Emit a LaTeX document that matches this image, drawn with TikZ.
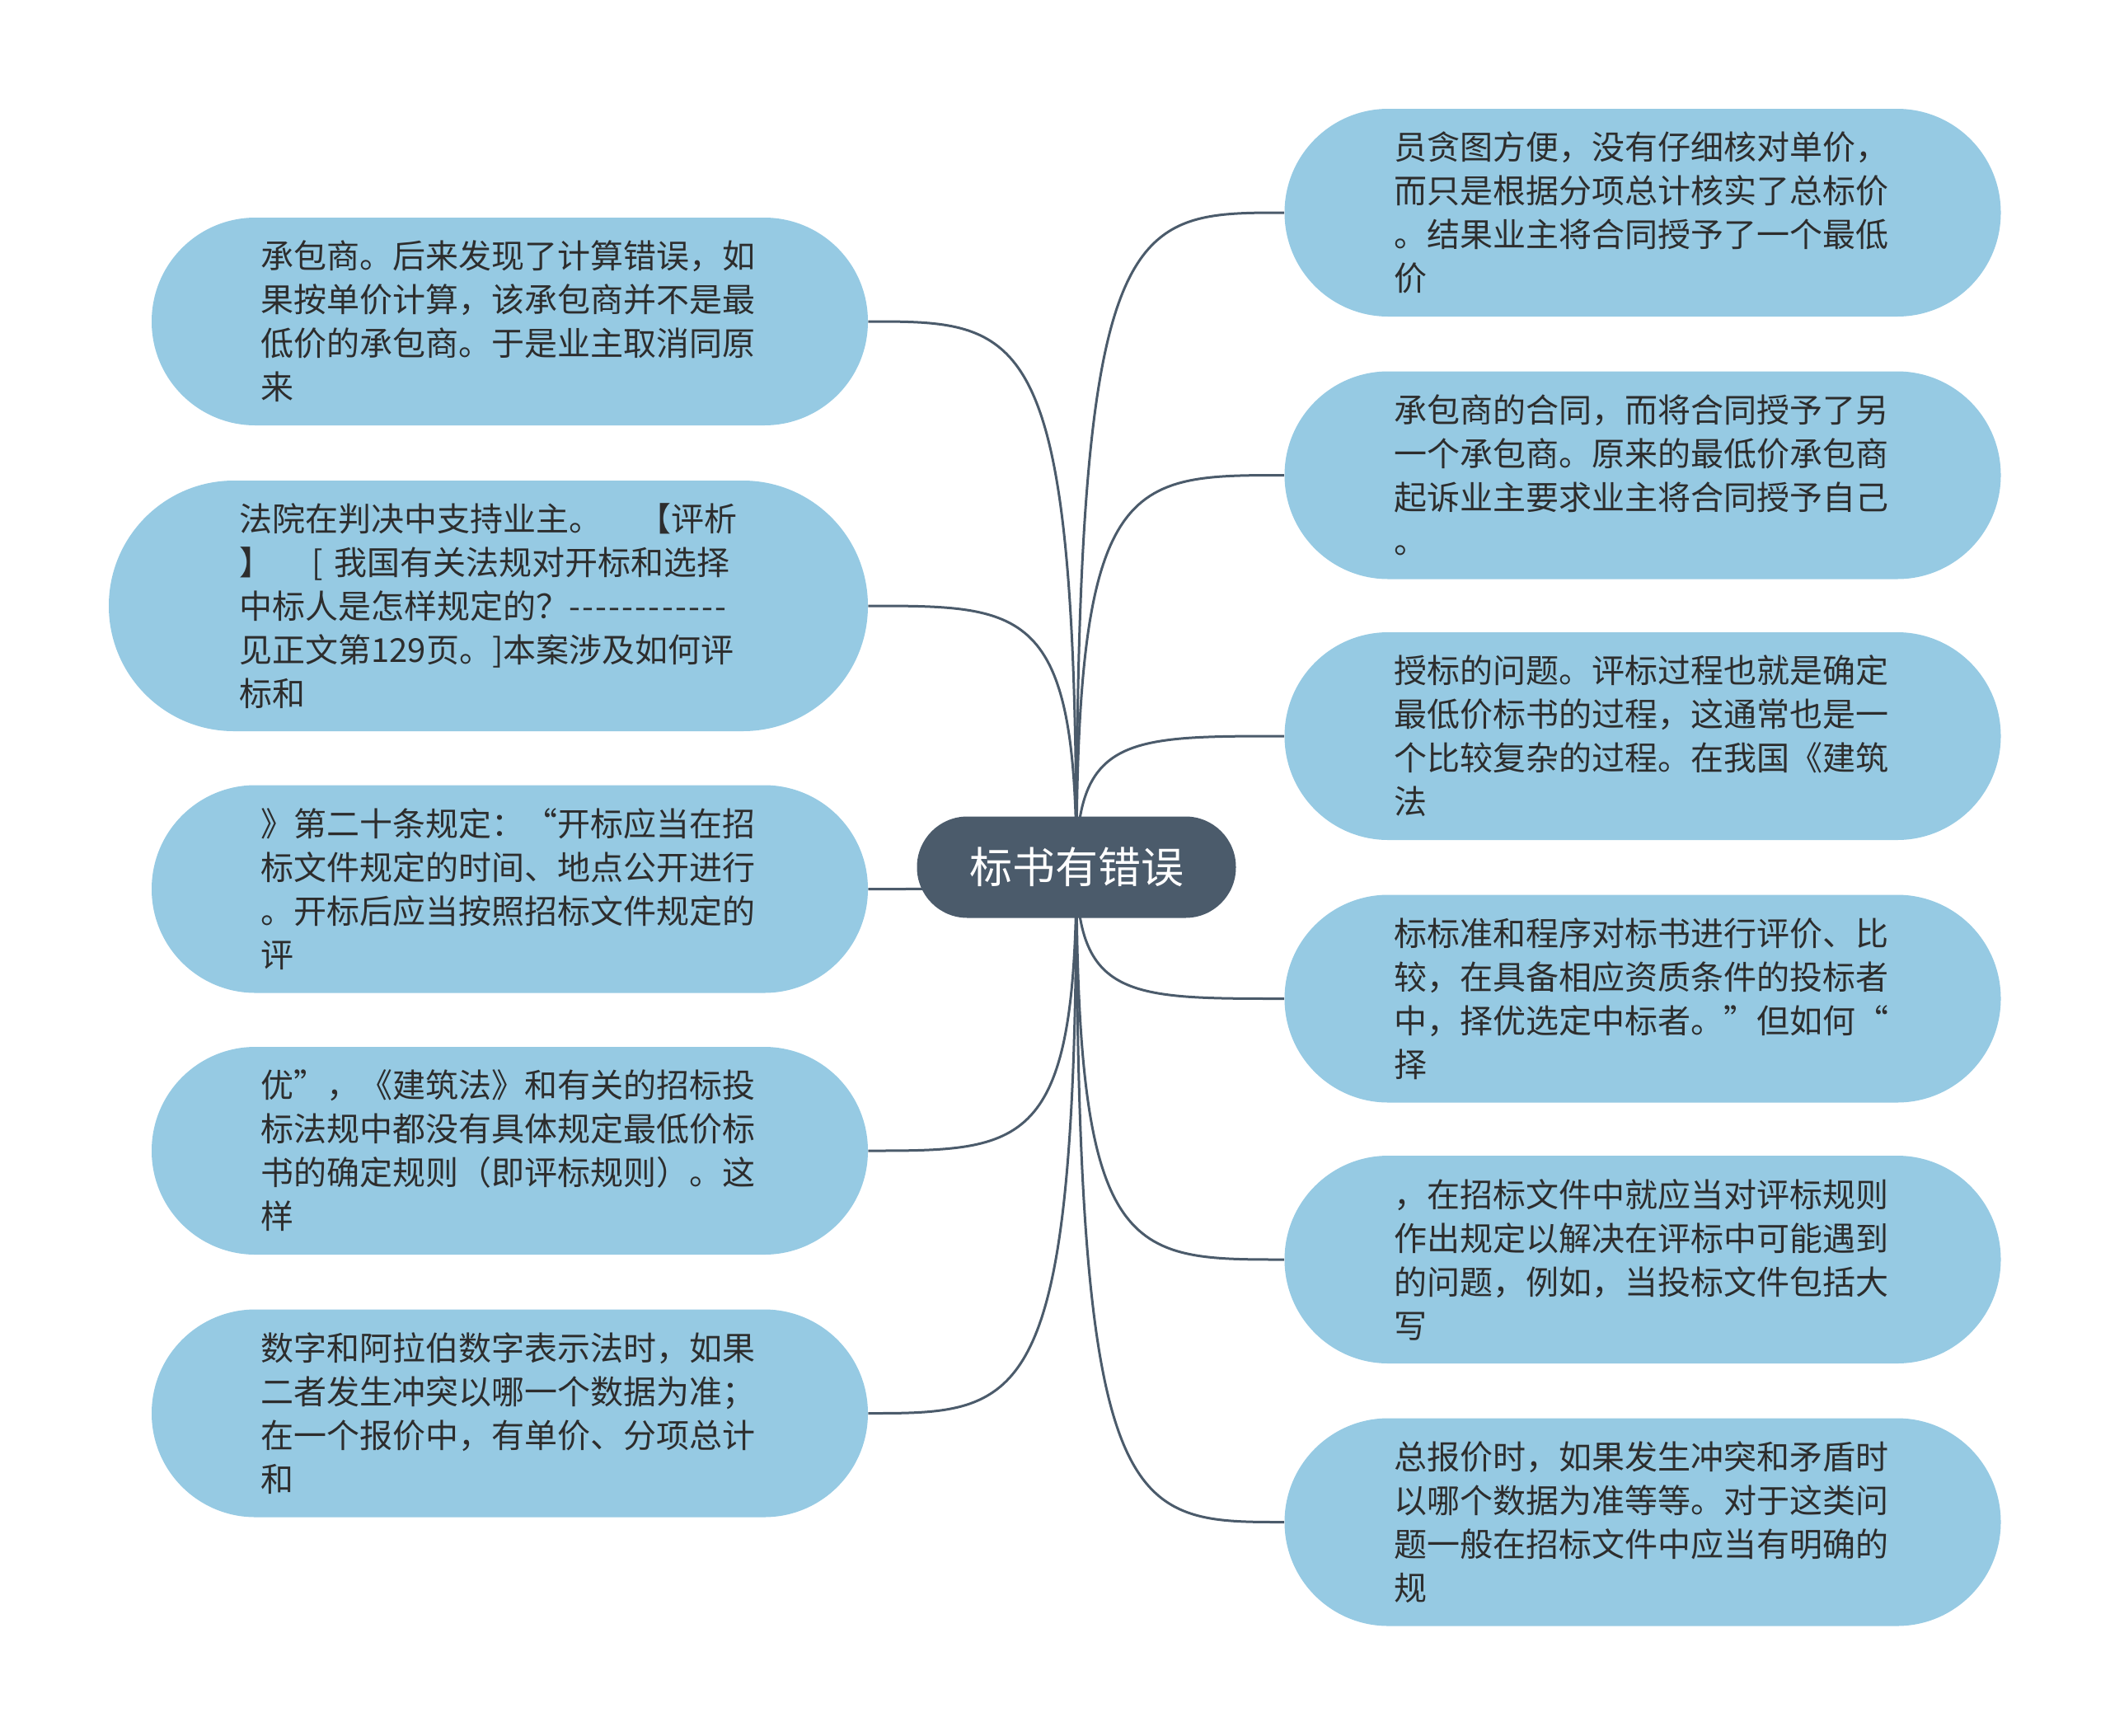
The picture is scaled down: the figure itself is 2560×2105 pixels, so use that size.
\documentclass[tikz,border=0pt]{standalone}
\usepackage{fontspec}
\newfontfamily\cjk{Noto Sans CJK SC}
\usetikzlibrary{backgrounds,calc}
\definecolor{leaf}{RGB}{150,202,227}
\definecolor{rootc}{RGB}{75,91,107}
\definecolor{txt}{RGB}{45,45,45}
\definecolor{edgec}{RGB}{75,91,107}
\def\hy{-\kern1.1pt}
\begin{document}
\begin{tikzpicture}[x=0.5pt,y=-0.5pt,
  leafbox/.style={fill=leaf, rounded corners=62.9pt, minimum width=434.5pt,
    minimum height=126pt, text width=302pt, align=left, inner sep=0pt,
    text=txt, font=\cjk\fontsize{20pt}{26.5pt}\selectfont},
  tallbox/.style={leafbox, rounded corners=75.9pt, minimum width=460.5pt, minimum height=152pt},
  rootbox/.style={fill=rootc, rounded corners=30.6pt, minimum width=193.5pt,
    minimum height=61.5pt, inner sep=0pt, text=white,
    font=\cjk\fontsize{26pt}{30pt}\selectfont},
  conn/.style={draw=edgec, line width=1.5pt}]
\useasboundingbox (0,0) rectangle (2560,2105);

\node[rootbox] (root) at (1306,1052) {标书有错误};

\node[leafbox] (L1) at (618.5,390) {承包商。后来发现了计算错误，如\\果按单价计算，该承包商并不是最\\低价的承包商。于是业主取消同原\\来};
\node[tallbox] (L2) at (592.5,735) {法院在判决中支持业主。\hspace*{1.1em}【评析\\】\hspace*{1.2em}[ 我国有关法规对开标和选择\\中标人是怎样规定的？\hy\hy\hy\hy\hy\hy\hy\hy\hy\hy\hy\hy\\见正文第129页。]本案涉及如何评\\标和};
\node[leafbox] (L3) at (618.5,1078.5) {》第二十条规定：“开标应当在招\\标文件规定的时间、地点公开进行\\。开标后应当按照招标文件规定的\\评};
\node[leafbox] (L4) at (618.5,1396) {优”，《建筑法》和有关的招标投\\标法规中都没有具体规定最低价标\\书的确定规则（即评标规则）。这\\样};
\node[leafbox] (L5) at (618.5,1714.5) {数字和阿拉伯数字表示法时，如果\\二者发生冲突以哪一个数据为准；\\在一个报价中，有单价、分项总计\\和};

\node[leafbox] (R1) at (1993,258) {员贪图方便，没有仔细核对单价，\\而只是根据分项总计核实了总标价\\。结果业主将合同授予了一个最低\\价};
\node[leafbox] (R2) at (1993,576.5) {承包商的合同，而将合同授予了另\\一个承包商。原来的最低价承包商\\起诉业主要求业主将合同授予自己\\。};
\node[leafbox] (R3) at (1993,893) {授标的问题。评标过程也就是确定\\最低价标书的过程，这通常也是一\\个比较复杂的过程。在我国《建筑\\法};
\node[leafbox] (R4) at (1993,1211.5) {标标准和程序对标书进行评价、比\\较，在具备相应资质条件的投标者\\中，择优选定中标者。”但如何“\\择};
\node[leafbox] (R5) at (1993,1528) {，在招标文件中就应当对评标规则\\作出规定以解决在评标中可能遇到\\的问题，例如，当投标文件包括大\\写};
\node[leafbox] (R6) at (1993,1846.5) {总报价时，如果发生冲突和矛盾时\\以哪个数据为准等等。对于这类问\\题一般在招标文件中应当有明确的\\规};

\begin{scope}[on background layer]
\foreach \c in {L1,L2,L3,L4,L5}{
  \draw[conn] (root.center) .. controls (root.center |- \c.east) and ($(root.center |- \c.east)!0.25!(\c.east)$) .. (\c.east);
}
\foreach \c in {R1,R2,R3,R4,R5,R6}{
  \draw[conn] (root.center) .. controls (root.center |- \c.west) and ($(root.center |- \c.west)!0.25!(\c.west)$) .. (\c.west);
}
\end{scope}
\end{tikzpicture}
\end{document}
